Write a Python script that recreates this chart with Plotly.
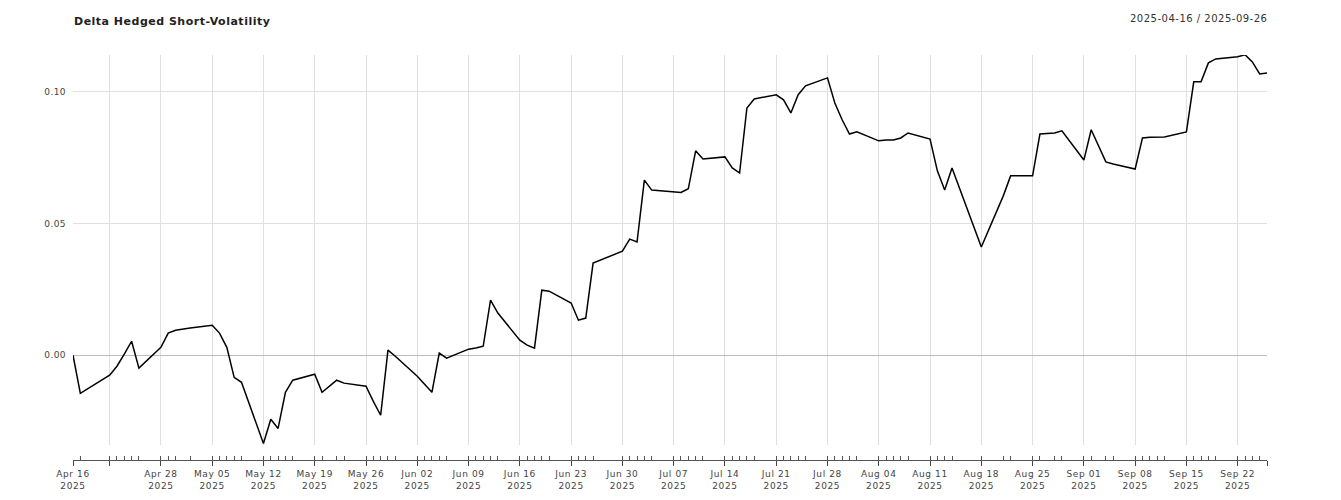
import plotly.graph_objects as go

dates = ["2025-04-16","2025-04-17","2025-04-21","2025-04-22","2025-04-23","2025-04-24","2025-04-25",
         "2025-04-28","2025-04-29","2025-04-30","2025-05-02","2025-05-05","2025-05-06","2025-05-07",
         "2025-05-08","2025-05-09","2025-05-12","2025-05-13","2025-05-14","2025-05-15","2025-05-16",
         "2025-05-19","2025-05-20","2025-05-22","2025-05-23","2025-05-26","2025-05-27","2025-05-28",
         "2025-05-29","2025-05-30","2025-06-02","2025-06-03","2025-06-04","2025-06-05","2025-06-06",
         "2025-06-09","2025-06-10","2025-06-11","2025-06-12","2025-06-13","2025-06-16","2025-06-17",
         "2025-06-18","2025-06-19","2025-06-20","2025-06-23","2025-06-24","2025-06-25","2025-06-26",
         "2025-06-30","2025-07-01","2025-07-02","2025-07-03","2025-07-04","2025-07-07","2025-07-08",
         "2025-07-09","2025-07-10","2025-07-11","2025-07-14","2025-07-15","2025-07-16","2025-07-17",
         "2025-07-18","2025-07-21","2025-07-22","2025-07-23","2025-07-24","2025-07-25","2025-07-28",
         "2025-07-29","2025-07-30","2025-07-31","2025-08-01","2025-08-04","2025-08-05","2025-08-06",
         "2025-08-07","2025-08-08","2025-08-11","2025-08-12","2025-08-13","2025-08-14","2025-08-18",
         "2025-08-21","2025-08-22","2025-08-25","2025-08-26","2025-08-28","2025-08-29","2025-09-01",
         "2025-09-02","2025-09-04","2025-09-05","2025-09-08","2025-09-09","2025-09-10","2025-09-11",
         "2025-09-12","2025-09-15","2025-09-16","2025-09-17","2025-09-18","2025-09-19","2025-09-22",
         "2025-09-23","2025-09-24","2025-09-25","2025-09-26"]
values = [0.0,-0.0145,-0.0076,-0.0042,0.0004,0.0053,-0.0049,
          0.0030,0.0084,0.0095,0.0103,0.0114,0.0084,0.0030,
          -0.0084,-0.0103,-0.0335,-0.0243,-0.0278,-0.0141,-0.0095,
          -0.0072,-0.0141,-0.0095,-0.0106,-0.0118,-0.0175,-0.0228,
          0.0019,-0.0004,-0.0080,-0.0112,-0.0141,0.0008,-0.0011,
          0.0023,0.0027,0.0034,0.0209,0.0160,0.0057,0.0038,
          0.0027,0.0247,0.0243,0.0198,0.0133,0.0141,0.0350,
          0.0395,0.0441,0.0430,0.0665,0.0627,0.0620,0.0618,
          0.0632,0.0776,0.0745,0.0753,0.0711,0.0692,0.0939,
          0.0973,0.0989,0.0970,0.0920,0.0989,0.1023,0.1053,
          0.0958,0.0894,0.0840,0.0848,0.0814,0.0817,0.0817,
          0.0825,0.0844,0.0821,0.0700,0.0627,0.0711,0.0411,
          0.0605,0.0681,0.0681,0.0840,0.0844,0.0852,0.0741,
          0.0856,0.0734,0.0726,0.0707,0.0825,0.0828,0.0829,
          0.0829,0.0848,0.1038,0.1038,0.1110,0.1125,0.1133,
          0.1141,0.1114,0.1068,0.1072]

major_ticks = ["2025-04-16","2025-04-21","2025-04-28","2025-05-05","2025-05-12","2025-05-19",
               "2025-05-26","2025-06-02","2025-06-09","2025-06-16","2025-06-23","2025-06-30",
               "2025-07-07","2025-07-14","2025-07-21","2025-07-28","2025-08-04","2025-08-11",
               "2025-08-18","2025-08-25","2025-09-01","2025-09-08","2025-09-15","2025-09-22",
               "2025-09-26"]
major_labels = ["Apr 16","","Apr 28","May 05","May 12","May 19","May 26","Jun 02","Jun 09",
                "Jun 16","Jun 23","Jun 30","Jul 07","Jul 14","Jul 21","Jul 28","Aug 04",
                "Aug 11","Aug 18","Aug 25","Sep 01","Sep 08","Sep 15","Sep 22",""]
year_label = "2025"
y_ticks = [0.0, 0.05, 0.10]
y_labels = ["0.00", "0.05", "0.10"]

FONT = "DejaVu Sans"
xr = ["2025-04-16", "2025-09-26"]


def spaced(t, ls=0.5):
    return f'<span style="letter-spacing:{ls}px">{t}</span>'


tick_text = [spaced(f"{m}<br>{year_label}", 0.6) if m else "" for m in major_labels]

# page body adds an 8px offset; margins compensate
fig = go.Figure()
fig.add_trace(go.Scatter(x=dates, y=values, mode="lines",
                         line=dict(color="#000000", width=1.5), hoverinfo="skip",
                         xaxis="x", yaxis="y", showlegend=False))
fig.add_trace(go.Scatter(x=dates, y=values, mode="lines",
                         line=dict(color="rgba(0,0,0,0)", width=0), hoverinfo="skip",
                         xaxis="x2", yaxis="y", showlegend=False))

fig.update_layout(
    width=1341, height=500,
    margin=dict(l=65, r=82, t=47, b=48),
    paper_bgcolor="white", plot_bgcolor="white",
    font=dict(family=FONT, size=9, color="#444"),
    title=dict(text=spaced("<b>Delta Hedged Short-Volatility</b>", 0.5), x=66/1341, xanchor="left",
               xref="container", y=1-13/500, yref="container", yanchor="middle",
               font=dict(family=FONT, size=11, color="#222")),
    xaxis=dict(type="date", range=xr, anchor="free", position=0,
               tickmode="array", tickvals=major_ticks, ticktext=tick_text,
               ticks="outside", ticklen=5, tickwidth=1, tickcolor="#444",
               showline=True, linecolor="#555", linewidth=1,
               showgrid=True, gridcolor="#e0e0e0", gridwidth=1, zeroline=False,
               tickfont=dict(family=FONT, size=9, color="#444")),
    xaxis2=dict(type="date", range=xr, anchor="free", position=0, overlaying="x",
                tickmode="array", tickvals=sorted(set(dates) | set(major_ticks)),
                ticks="inside", ticklen=4, tickwidth=1, tickcolor="#555",
                showticklabels=False, showgrid=False, showline=False, zeroline=False),
    yaxis=dict(domain=[15/405, 1], range=[-0.0341, 0.1140],
               tickmode="array", tickvals=y_ticks, ticktext=[spaced(t, 0.4) for t in y_labels],
               showgrid=True, gridcolor="#e0e0e0", gridwidth=1,
               zeroline=True, zerolinecolor="#bdbdbd", zerolinewidth=1,
               showline=False, ticks="", ticklabelstandoff=6,
               tickfont=dict(family=FONT, size=9, color="#444")),
    annotations=[dict(text=spaced("2025-04-16 / 2025-09-26", 0.5), xref="paper", yref="paper",
                      x=1, y=1+35/390, xanchor="right", yanchor="middle", showarrow=False,
                      xshift=2, font=dict(family=FONT, size=10, color="#333"))],
)

fig.write_html("out.html")
